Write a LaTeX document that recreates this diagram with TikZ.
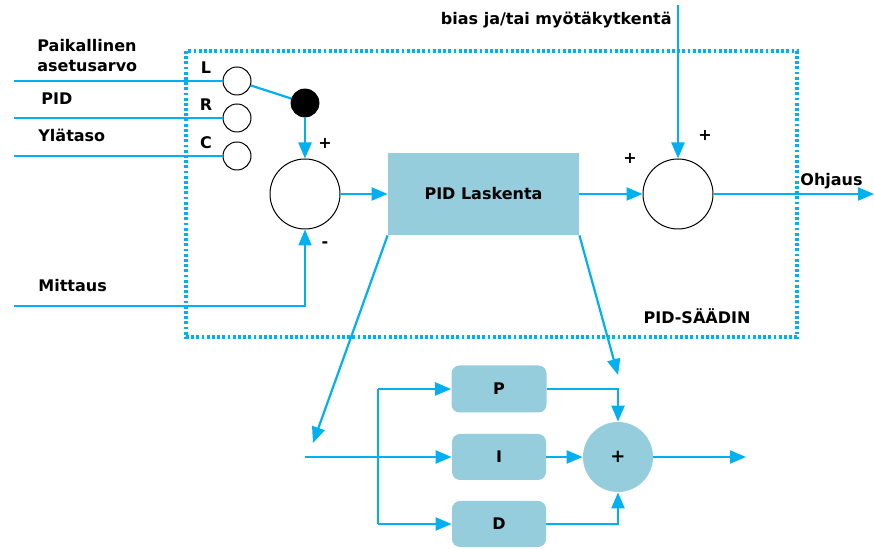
\documentclass[tikz,border=0pt]{standalone}
\usepackage{fontspec}
\setmainfont{DejaVu Sans}
\usetikzlibrary{arrows.meta}
\usetikzlibrary{positioning}

\definecolor{signaali}{RGB}{0,176,240}
\definecolor{lohkovari}{RGB}{150,205,220}

\tikzset{
	sig/.style={draw=signaali, line width=1.1pt},
	nuoli/.style={sig, -{Triangle[length=8pt,width=6.5pt]}},
	summain/.style={circle, draw, fill=white, line width=0.5pt, minimum size=35pt, inner sep=0pt},
	valitsin/.style={circle, draw, fill=white, line width=0.5pt, minimum size=14pt, inner sep=0pt},
	lohko/.style={rectangle, fill=lohkovari, inner sep=0pt},
	teksti/.style={inner sep=0pt},
}

\begin{document}
\begin{tikzpicture}[x=0.5pt,y=-0.5pt, font=\fontsize{8}{10}\selectfont\bfseries]
		\useasboundingbox (0,0) rectangle (874,549);
		% saadin
		\draw[signaali, line width=1.6pt, dash pattern=on 1.4pt off 1.2pt] (186,51) rectangle (797,337);
		\node[teksti] (nimi) at (697,316) {PID-SÄÄDIN};
		% asetusarvon valinta
		\node[valitsin] (valL) at (237,81) {};
		\node[valitsin] (valR) at (237,118) {};
		\node[valitsin] (valC) at (237,156) {};
		\node[circle, fill=black, draw, minimum size=14pt, inner sep=0pt] (piste) at (305,103) {};
		\node[teksti] (tL) at (206,68) {L};
		\node[teksti] (tR) at (206,105) {R};
		\node[teksti] (tC) at (206,143) {C};
		\coordinate (inL) at (14,81);
		\coordinate (inR) at (14,118);
		\coordinate (inC) at (14,156);
		\node[teksti, anchor=west, align=left] (paik) at (37,56) {Paikallinen\\asetusarvo};
		\node[teksti, anchor=west] (pid) at (41,99) {PID};
		\node[teksti, anchor=west] (ylat) at (38,135) {Ylätaso};
		\draw[sig] (inL) -- (valL);
		\draw[sig] (inR) -- (valR);
		\draw[sig] (inC) -- (valC);
		\draw[sig] (valL) -- (piste);
		% ylempi lohkokaavio
		\node[summain] (summa1) at (305,194) {};
		\node[lohko, minimum width=95.5pt, minimum height=41pt] (laskenta) at (483.5,194) {PID Laskenta};
		\node[summain] (summa2) at (678,194) {};
		\node[teksti] (p1) at (325,143) {+};
		\node[teksti] (m1) at (325,245) {-};
		\node[teksti] (p2) at (630,158) {+};
		\node[teksti] (p3) at (705,135) {+};
		\coordinate (inMit) at (14,306);
		\coordinate (inBias) at (678,5);
		\coordinate (ulos) at (874,194);
		\node[teksti, anchor=west] (mit) at (38,286) {Mittaus};
		\node[teksti, anchor=east] (bias) at (672,20) {bias ja/tai myötäkytkentä};
		\node[teksti, anchor=west] (ohj) at (800,181) {Ohjaus};
		\draw[nuoli] (piste) -- (summa1);
		\draw[nuoli] (inMit) -| (summa1);
		\draw[nuoli] (summa1) -- (laskenta);
		\draw[nuoli] (laskenta) -- (summa2);
		\draw[nuoli] (inBias) -- (summa2);
		\draw[nuoli] (summa2) -- (ulos);
		% PID-laskennan sisalto
		\coordinate (alkuV) at (313,443);
		\coordinate (alkuO) at (618,375);
		\draw[nuoli] (laskenta.south west) -- (alkuV);
		\draw[nuoli] (laskenta.south east) -- (alkuO);
		\node[lohko, rounded corners=4pt, minimum width=47.5pt, minimum height=23.5pt] (lohkoP) at (499,389) {P};
		\node[lohko, rounded corners=4pt, minimum width=47pt, minimum height=23pt] (lohkoI) at (499,457) {I};
		\node[lohko, rounded corners=4pt, minimum width=47pt, minimum height=23pt] (lohkoD) at (499,524) {D};
		\node[circle, fill=lohkovari, minimum size=35pt, inner sep=0pt, font=\fontsize{9}{10}\selectfont\bfseries] (plus) at (618,457) {+};
		\coordinate (tulo) at (305,457);
		\coordinate (haaraP) at (378,389);
		\coordinate (haaraD) at (378,524);
		\coordinate (loppu) at (746,457);
		\draw[sig] (haaraP) -- (haaraD);
		\draw[nuoli] (tulo) -- (lohkoI);
		\draw[nuoli] (haaraP) -- (lohkoP);
		\draw[nuoli] (haaraD) -- (lohkoD);
		\draw[nuoli] (lohkoP) -| (plus);
		\draw[nuoli] (lohkoI) -- (plus);
		\draw[nuoli] (lohkoD) -| (plus);
		\draw[nuoli] (plus) -- (loppu);
	\end{tikzpicture}
\end{document}
